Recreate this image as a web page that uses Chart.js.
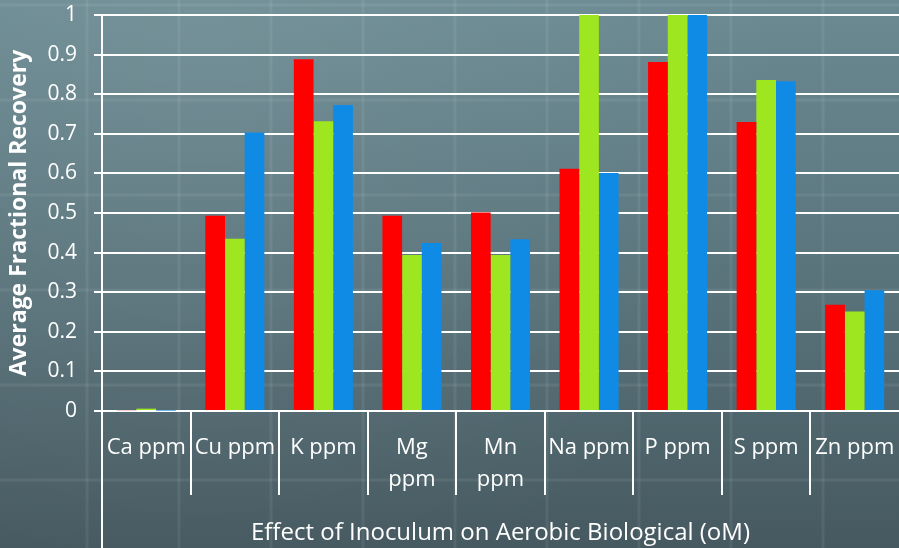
<!DOCTYPE html>
<html>
<head>
<meta charset="utf-8">
<script src="https://cdn.jsdelivr.net/npm/chart.js@4.4.1/dist/chart.umd.min.js"></script>
<style>
  html, body { margin: 0; padding: 0; background: #56707a; }
  #wrap { width: 899px; height: 548px; position: relative; }
  canvas { display: block; }
</style>
</head>
<body>
<div id="wrap"><canvas id="chart" width="899" height="548"></canvas></div>
<script>
// Elements measured (ppm) and their average fractional recovery per treatment
const categories = [
  "Ca ppm", "Cu ppm", "K ppm", ["Mg", "ppm"], ["Mn", "ppm"],
  "Na ppm", "P ppm", "S ppm", "Zn ppm"
];
const seriesNames = ["Series 1", "Series 2", "Series 3"];
const redValues   = [0.002, 0.493, 0.888, 0.493, 0.501, 0.612, 0.881, 0.730, 0.268];
const greenValues = [0.006, 0.435, 0.732, 0.394, 0.394, 1.000, 1.000, 0.836, 0.251];
const blueValues  = [0.001, 0.703, 0.773, 0.424, 0.434, 0.601, 1.000, 0.833, 0.305];
const yTickLabels = ["0", "0.1", "0.2", "0.3", "0.4", "0.5", "0.6", "0.7", "0.8", "0.9", "1"];

const WHITE = "#ffffff";
const FONT = "'Open Sans', 'DejaVu Sans', sans-serif";

// Slate chalkboard backdrop with a faint grid texture
const boardBackground = {
  id: "boardBackground",
  beforeDraw(chart) {
    const { ctx, width, height } = chart;
    ctx.save();
    const g = ctx.createLinearGradient(0, 0, 0, height);
    g.addColorStop(0, "#6b8a92");
    g.addColorStop(0.5, "#5a747c");
    g.addColorStop(1, "#465960");
    ctx.fillStyle = g;
    ctx.fillRect(0, 0, width, height);
    const r = ctx.createRadialGradient(200, 40, 20, 200, 40, 600);
    r.addColorStop(0, "rgba(255,255,255,0.07)");
    r.addColorStop(1, "rgba(255,255,255,0)");
    ctx.fillStyle = r;
    ctx.fillRect(0, 0, width, height);
    ctx.strokeStyle = "rgba(255,255,255,0.07)";
    ctx.lineWidth = 3;
    for (let x = 87; x < width; x += 92) {
      ctx.beginPath(); ctx.moveTo(x, 0); ctx.lineTo(x, height); ctx.stroke();
    }
    for (let y = 5; y < height; y += 95) {
      ctx.beginPath(); ctx.moveTo(0, y); ctx.lineTo(width, y); ctx.stroke();
    }
    ctx.restore();
  }
};

// Category separators below the axis, and the long left axis rule
const categoryDividers = {
  id: "categoryDividers",
  afterDraw(chart) {
    const { ctx, chartArea } = chart;
    const xs = chart.scales.x;
    const n = xs.ticks.length;
    const half = (xs.getPixelForTick(1) - xs.getPixelForTick(0)) / 2;
    ctx.save();
    ctx.strokeStyle = WHITE;
    ctx.lineWidth = 2;
    for (let i = 1; i < n; i++) {
      const x = Math.round(xs.getPixelForTick(i) - half);
      ctx.beginPath();
      ctx.moveTo(x, chartArea.bottom);
      ctx.lineTo(x, chartArea.bottom + 84);
      ctx.stroke();
    }
    ctx.beginPath();
    ctx.moveTo(chartArea.left, chartArea.bottom);
    ctx.lineTo(chartArea.left, chart.height);
    ctx.stroke();
    ctx.restore();
  }
};

new Chart(document.getElementById("chart"), {
  type: "bar",
  data: {
    labels: categories,
    datasets: [
      { label: seriesNames[0], data: redValues,   backgroundColor: "#ff0000" },
      { label: seriesNames[1], data: greenValues, backgroundColor: "#9ee61f" },
      { label: seriesNames[2], data: blueValues,  backgroundColor: "#0f8be6" }
    ]
  },
  options: {
    responsive: false,
    animation: false,
    devicePixelRatio: 1,
    layout: { padding: { top: 15, right: 0, left: 0, bottom: 0 } },
    datasets: { bar: { categoryPercentage: 0.667, barPercentage: 1.0 } },
    plugins: { legend: { display: false }, tooltip: { enabled: false } },
    scales: {
      x: {
        grid: { display: false },
        border: { display: true, color: WHITE, width: 2 },
        ticks: {
          color: WHITE,
          padding: 13,
          maxRotation: 0,
          autoSkip: false,
          font: { family: FONT, size: 22, lineHeight: 1.45 }
        },
        title: {
          display: true,
          text: "Effect of Inoculum on Aerobic Biological (oM)",
          color: WHITE,
          padding: { top: 0, bottom: 0 },
          font: { family: FONT, size: 24 }
        },
        afterFit(scale) {
          scale.height = 137;
          scale.paddingLeft = 0;
          scale.paddingRight = 0;
        }
      },
      y: {
        min: 0,
        max: 1,
        grid: { color: WHITE, lineWidth: 2, tickLength: 8, drawTicks: true },
        border: { display: true, color: WHITE, width: 2 },
        ticks: {
          stepSize: 0.1,
          color: WHITE,
          padding: 17,
          font: { family: FONT, size: 21 },
          callback: (v) => yTickLabels[Math.round(v * 10)]
        },
        title: {
          display: true,
          text: "Average Fractional Recovery",
          color: WHITE,
          padding: { top: 6, bottom: 0 },
          font: { family: FONT, size: 23, weight: "bold" }
        },
        afterFit(scale) {
          scale.width = 102;
          scale.paddingTop = 0;
          scale.paddingBottom = 0;
        }
      }
    }
  },
  plugins: [boardBackground, categoryDividers]
});
</script>
</body>
</html>
